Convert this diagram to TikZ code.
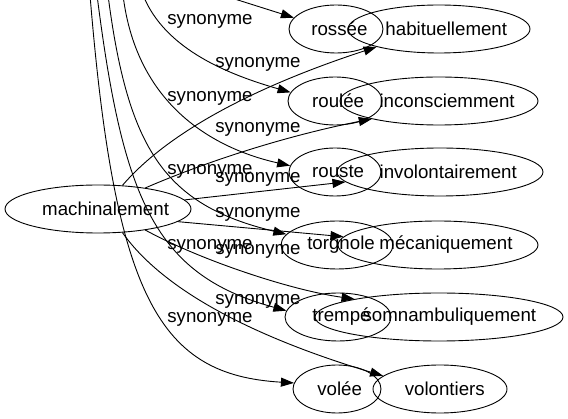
\documentclass[tikz,border=0pt]{standalone}
\usepackage{fontspec}
\setmainfont{Liberation Sans}
\usetikzlibrary{shapes.geometric,arrows.meta}
\tikzset{
  nd/.style={ellipse,draw,inner sep=0pt,line width=0.9pt,minimum height=48pt},
  syn/.style={-{Triangle[length=13pt,width=9pt]},line width=0.9pt},
  lbl/.style={anchor=base,inner sep=0pt},
}
\newcommand{\nodetxt}[1]{\sbox0{#1}\makebox[0pt][l]{\hspace*{-0.44\wd0}\usebox0}}
\begin{document}
\begin{tikzpicture}[x=1pt,y=-1pt,font=\fontsize{18.7}{22}\selectfont]
\useasboundingbox (0,0) rectangle (568,419);
\clip (0,0) rectangle (568,419);
% nodes
\node[nd,minimum width=186pt] (mach) at (98,209) {\nodetxt{machinalement}};
\node[nd,minimum width=94pt]  (rossee) at (336,29) {\nodetxt{rossée}};
\node[nd,minimum width=182pt] (habit) at (439,29) {\nodetxt{habituellement}};
\node[nd,minimum width=94pt]  (roulee) at (335,101) {\nodetxt{roulée}};
\node[nd,minimum width=198pt] (incons) at (439,101) {\nodetxt{inconsciemment}};
\node[nd,minimum width=92pt]  (rouste) at (335,172) {\nodetxt{rouste}};
\node[nd,minimum width=206pt] (invol) at (440,172) {\nodetxt{involontairement}};
\node[nd,minimum width=112pt] (torgnole) at (337,245) {\nodetxt{torgnole}};
\node[nd,minimum width=200pt] (meca) at (438,245) {\nodetxt{mécaniquement}};
\node[nd,minimum width=106pt] (trempe) at (338,317) {\nodetxt{trempé}};
\node[nd,minimum width=248pt] (somn) at (439,317) {\nodetxt{somnambuliquement}};
\node[nd,minimum width=88pt]  (volee) at (337,389) {\nodetxt{volée}};
\node[nd,minimum width=134pt] (volont) at (440,389) {\nodetxt{volontiers}};
% free ends of edges coming from above the picture
\coordinate (s1) at (222,-5);
\coordinate (s2) at (143,-5);
\coordinate (s3) at (123,-5);
\coordinate (s4) at (108,-5);
\coordinate (s5) at (97,-5);
\coordinate (s6) at (90,-5);
% edges from above
\draw[syn] (s1) -- (rossee.165);
\draw[syn] (s2) .. controls (165,50) and (230,75) .. (roulee.169);
\draw[syn] (s3) .. controls (137,110) and (220,150) .. (rouste.172);
\draw[syn] (s4) .. controls (128,150) and (165,205) .. (torgnole.168);
\draw[syn] (s5) .. controls (123,200) and (155,275) .. (trempe.173);
\draw[syn] (s6) .. controls (115,300) and (160,375) .. (volee.172);
% edges from machinalement
\draw[syn] (mach.44) .. controls (170,130) and (260,85) .. (habit.196);
\draw[syn] (mach.24) .. controls (210,160) and (290,135) .. (incons.195);
\draw[syn] (mach.6) -- (invol.186);
\draw[syn] (mach.-9) -- (meca.175);
\draw[syn] (mach.-24) .. controls (200,260) and (290,290) .. (somn.168);
\draw[syn] (mach.-44) .. controls (170,300) and (280,345) .. (volont.167);
% labels
\node[lbl] (l1) at (210,25) {synonyme};
\node[lbl] (l2) at (258,68) {synonyme};
\node[lbl] (l3) at (210,102) {synonyme};
\node[lbl] (l4) at (258,133) {synonyme};
\node[lbl] (l5) at (210,175) {synonyme};
\node[lbl] (l6) at (258,183) {synonyme};
\node[lbl] (l7) at (258,218) {synonyme};
\node[lbl] (l8) at (210,250) {synonyme};
\node[lbl] (l9) at (258,255) {synonyme};
\node[lbl] (l10) at (258,305) {synonyme};
\node[lbl] (l11) at (210,323) {synonyme};
\end{tikzpicture}
\end{document}
